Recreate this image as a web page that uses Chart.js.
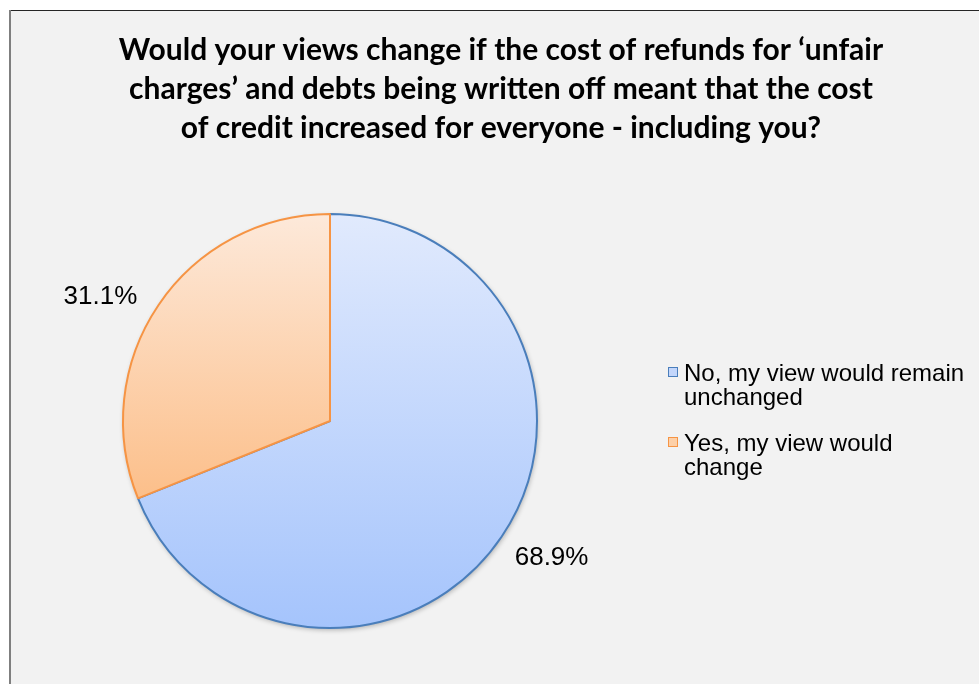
<!DOCTYPE html>
<html>
<head>
<meta charset="utf-8">
<script src="https://cdn.jsdelivr.net/npm/chart.js@4.4.1/dist/chart.umd.min.js"></script>
<style>
  html, body { margin: 0; padding: 0; background: #fff; overflow: hidden; }
  #wrap { width: 979px; height: 684px; overflow: hidden; }
</style>
</head>
<body>
<div id="wrap"><canvas id="views-chart" width="992" height="684"></canvas></div>
<script>
const titleLines = [
  'Would your views change if the cost of refunds for \u2018unfair',
  'charges\u2019 and debts being written off meant that the cost',
  'of credit increased for everyone - including you?'
];
const answers = [
  ['No, my view would remain', 'unchanged'],
  ['Yes, my view would', 'change']
];
const shares = [68.9, 31.1];

const lineColors = ['#4a7ebb', '#f69444'];
const topColors = ['#e1eafd', '#fde9da'];
const bottomColors = ['#a5c4fc', '#fcbf8a'];
const boxColors = ['#c3d6fb', '#fdd0a8'];

// grey panel with the dark rule on top and left
const framePlugin = {
  id: 'frame',
  beforeDraw(chart) {
    const ctx = chart.ctx;
    ctx.save();
    ctx.fillStyle = '#ffffff';
    ctx.fillRect(0, 0, chart.width, chart.height);
    ctx.fillStyle = '#f2f2f2';
    ctx.fillRect(10, 10, chart.width - 10, chart.height - 10);
    ctx.fillStyle = '#262626';
    ctx.fillRect(10, 10, chart.width - 10, 1);
    ctx.fillStyle = '#7f7f7f';
    ctx.fillRect(9, 10, 2, chart.height - 10);
    ctx.restore();
  }
};

// title is drawn by hand so it can sit off the pie's centre line
const titlePlugin = {
  id: 'bigTitle',
  afterDraw(chart) {
    const ctx = chart.ctx;
    ctx.save();
    ctx.fillStyle = '#000';
    ctx.font = 'bold 30px Lato, "Open Sans", sans-serif';
    ctx.textAlign = 'center';
    ctx.textBaseline = 'alphabetic';
    titleLines.forEach((line, i) => ctx.fillText(line, 501, 60 + i * 39));
    ctx.restore();
  }
};

// each slice gets a vertical gradient over its own bounding box, plus a soft shadow under the pie
const slicePlugin = {
  id: 'sliceFill',
  beforeDatasetsDraw(chart) {
    const ctx = chart.ctx;
    const arcs = chart.getDatasetMeta(0).data;
    if (!arcs.length) return;
    const { x, y, outerRadius } = arcs[0].getProps(['x', 'y', 'outerRadius'], true);

    ctx.save();
    ctx.shadowColor = 'rgba(0,0,0,0.28)';
    ctx.shadowBlur = 5;
    ctx.shadowOffsetX = 1;
    ctx.shadowOffsetY = 2;
    ctx.fillStyle = '#f2f2f2';
    ctx.beginPath();
    ctx.arc(x, y, outerRadius, 0, Math.PI * 2);
    ctx.fill();
    ctx.restore();

    arcs.forEach((arc, i) => {
      const p = arc.getProps(['startAngle', 'endAngle'], true);
      let top = y, bottom = y;
      for (let a = p.startAngle; a <= p.endAngle; a += 0.01) {
        const py = y + Math.sin(a) * outerRadius;
        top = Math.min(top, py);
        bottom = Math.max(bottom, py);
      }
      const endY = y + Math.sin(p.endAngle) * outerRadius;
      top = Math.min(top, endY);
      bottom = Math.max(bottom, endY);
      const grad = ctx.createLinearGradient(0, top, 0, bottom);
      grad.addColorStop(0, topColors[i]);
      grad.addColorStop(1, bottomColors[i]);
      arc.options.backgroundColor = grad;
    });
  },
  afterDatasetsDraw(chart) {
    const ctx = chart.ctx;
    const arcs = chart.getDatasetMeta(0).data;
    ctx.save();
    ctx.fillStyle = '#000';
    ctx.font = '26px "Liberation Sans", Arial, sans-serif';
    ctx.textAlign = 'center';
    ctx.textBaseline = 'middle';
    arcs.forEach((arc, i) => {
      const p = arc.getProps(['x', 'y', 'startAngle', 'endAngle', 'outerRadius'], true);
      const mid = (p.startAngle + p.endAngle) / 2;
      const text = shares[i].toFixed(1) + '%';
      const w = ctx.measureText(text).width;
      const dx = Math.cos(mid), dy = Math.sin(mid);
      const lx = p.x + dx * p.outerRadius * 1.1 + Math.sign(dx) * w / 2 - 4;
      const ly = p.y + dy * p.outerRadius * 1.04 + Math.sign(dy) * 10 + 6;
      ctx.fillText(text, lx, ly);
    });
    ctx.restore();
  }
};

// legend on the right with two-line entries
const legendPlugin = {
  id: 'sideLegend',
  afterDraw(chart) {
    const ctx = chart.ctx;
    ctx.save();
    ctx.font = '24px "Liberation Sans", Arial, sans-serif';
    ctx.textBaseline = 'alphabetic';
    answers.forEach((lines, i) => {
      const base = 381 + i * 70;
      ctx.fillStyle = boxColors[i];
      ctx.fillRect(668.5, base - 13.5, 9, 9);
      ctx.strokeStyle = lineColors[i];
      ctx.lineWidth = 1;
      ctx.strokeRect(668.5, base - 13.5, 9, 9);
      ctx.fillStyle = '#000';
      lines.forEach((t, j) => ctx.fillText(t, 684, base + j * 24));
    });
    ctx.restore();
  }
};

const ctx = document.getElementById('views-chart').getContext('2d');
new Chart(ctx, {
  type: 'pie',
  data: {
    labels: answers.map(a => a.join(' ')),
    datasets: [{
      data: shares,
      backgroundColor: bottomColors,
      borderColor: lineColors,
      borderWidth: 2
    }]
  },
  options: {
    responsive: false,
    animation: false,
    events: [],
    layout: {
      padding: { top: 213, bottom: 55, left: 122, right: 454 }
    },
    plugins: {
      legend: { display: false },
      title: { display: false },
      tooltip: { enabled: false }
    }
  },
  plugins: [framePlugin, slicePlugin, titlePlugin, legendPlugin]
});
</script>
</body>
</html>
